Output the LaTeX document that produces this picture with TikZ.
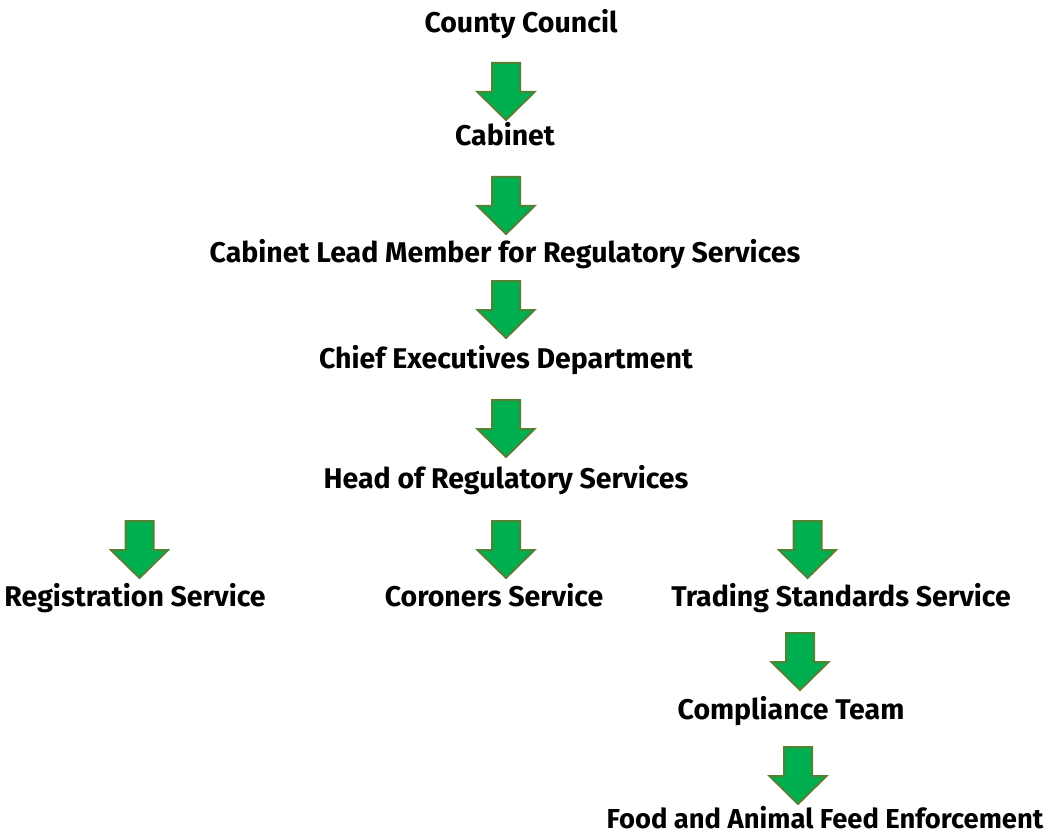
\documentclass[tikz,border=0pt]{standalone}
\usepackage{fontspec}
\setmainfont{Fira Sans}
\definecolor{arrowfill}{HTML}{00B050}
\definecolor{arrowline}{HTML}{548235}
\tikzset{
  lbl/.style={font=\bfseries\fontsize{28.5}{32}\selectfont, text=black, inner sep=0pt, anchor=base},
  lblsmall/.style={lbl, font=\bfseries\fontsize{27.4}{31}\selectfont},
  blockarrow/.pic={
    \path[fill=arrowfill, draw=arrowline, line width=2pt, line join=miter]
      (-14,0) -- (14,0) -- (14,29) -- (28.5,29) -- (0,57) -- (-28.5,29) -- (-14,29) -- cycle;
  }
}
\begin{document}
\begin{tikzpicture}[x=1pt,y=-1pt]
\useasboundingbox (0,0) rectangle (1048,834);
\node[lbl] (council) at (521,33) {County Council};
\node[lbl] (cabinet) at (505,146) {Cabinet};
\node[lbl] (lead) at (505,262) {Cabinet Lead Member for Regulatory Services};
\node[lbl] (chief) at (506,368) {Chief Executives Department};
\node[lbl] (head) at (506,488) {Head of Regulatory Services};
\node[lbl] (reg) at (135,606) {Registration Service};
\node[lbl] (cor) at (494,606) {Coroners Service};
\node[lbl] (trad) at (841,606) {Trading Standards Service};
\node[lbl] (comp) at (791,719) {Compliance Team};
\node[lblsmall] (food) at (825,828) {Food and Animal Feed Enforcement};
\pic at (506,63) {blockarrow};
\pic at (506,177) {blockarrow};
\pic at (506,281) {blockarrow};
\pic at (506,400) {blockarrow};
\pic at (139.5,521) {blockarrow};
\pic at (506,521) {blockarrow};
\pic at (807.5,521) {blockarrow};
\pic at (800,633) {blockarrow};
\pic at (798,747) {blockarrow};
\end{tikzpicture}
\end{document}
